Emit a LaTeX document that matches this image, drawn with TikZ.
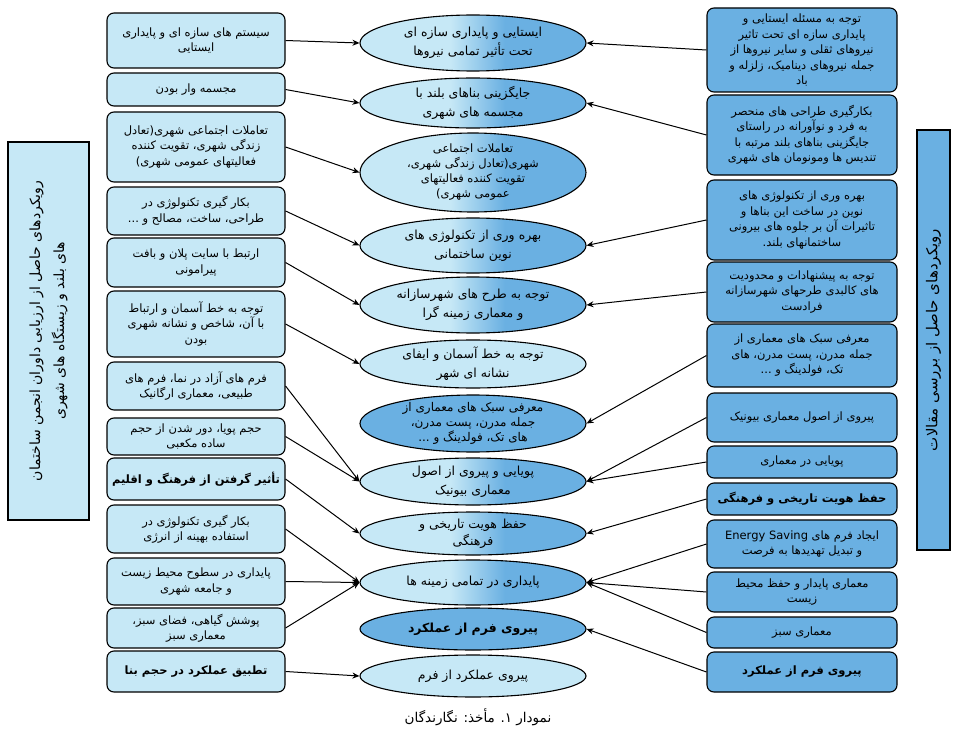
\documentclass[tikz,border=0pt]{standalone}
\usepackage{fontspec}
\usetikzlibrary{shapes.geometric,arrows.meta}
\TeXXeTstate=1
\newfontfamily\farsi[Script=Arabic]{DejaVu Sans}
\newcommand{\rl}[1]{\beginR #1\endR}
\definecolor{boxlight}{RGB}{198,232,246}
\definecolor{boxmid}{RGB}{106,176,226}
\pgfdeclarehorizontalshading{themeshade}{100bp}{color(0bp)=(boxlight); color(45bp)=(boxlight); color(57bp)=(boxmid); color(100bp)=(boxmid)}

\begin{document}
\begin{tikzpicture}[x=1pt,y=-1pt,
  lbox/.style={draw=black, line width=1.1pt, rounded corners=7pt, fill=boxlight, minimum width=178pt, inner sep=2pt, align=center, font=\farsi\fontsize{11.5}{15.5}\selectfont},
  rbox/.style={lbox, fill=boxmid, minimum width=190pt},
  theme/.style={ellipse, draw=black, line width=1.1pt, minimum width=226pt, inner xsep=-30pt, inner ysep=-6pt, align=center, font=\farsi\fontsize{12.5}{19}\selectfont},
  themeg/.style={theme, shading=themeshade},
  themel/.style={theme, fill=boxlight},
  themed/.style={theme, fill=boxmid},
  sidebox/.style={draw=black, line width=1.1pt, rotate=90, align=center, inner sep=2pt},
  conn/.style={line width=1pt, -{Stealth[length=7pt,width=6pt]}}]
\useasboundingbox (0,0) rectangle (958,733);

% side boxes
\node[sidebox, fill=boxlight, minimum width=378pt, minimum height=81pt, font=\farsi\fontsize{14}{24}\selectfont] (sidel) at (48.5,331) {\rl{رویکردهای حاصل از ارزیابی داوران انجمن ساختمان}\\\rl{های بلند و زیستگاه های شهری}};
\node[sidebox, fill=boxmid, minimum width=420pt, minimum height=33pt, font=\farsi\fontsize{15}{17}\selectfont] (sider) at (933.5,340) {\rl{رویکردهای حاصل از بررسی مقالات}};

% left column
\node[lbox, minimum height=55pt] (l1) at (196,40.5) {\rl{سیستم های سازه ای و پایداری}\\\rl{ایستایی}};
\node[lbox, minimum height=33pt] (l2) at (196,89.5) {\rl{مجسمه وار بودن}};
\node[lbox, minimum height=70pt] (l3) at (196,147) {\rl{تعاملات اجتماعی شهری(تعادل}\\\rl{زندگی شهری، تقویت کننده}\\\rl{فعالیتهای عمومی شهری)}};
\node[lbox, minimum height=48pt] (l4) at (196,211) {\rl{بکار گیری تکنولوژی در}\\\rl{طراحی، ساخت، مصالح و ...}};
\node[lbox, minimum height=49pt] (l5) at (196,262.5) {\rl{ارتبط با سایت پلان و بافت}\\\rl{پیرامونی}};
\node[lbox, minimum height=66pt] (l6) at (196,324) {\rl{توجه به خط آسمان و ارتباط}\\\rl{با آن، شاخص و نشانه شهری}\\\rl{بودن}};
\node[lbox, minimum height=48pt] (l7) at (196,386) {\rl{فرم های آزاد در نما، فرم های}\\\rl{طبیعی، معماری ارگانیک}};
\node[lbox, minimum height=37pt] (l8) at (196,436.5) {\rl{حجم پویا، دور شدن از حجم}\\\rl{ساده مکعبی}};
\node[lbox, minimum height=42pt] (l9) at (196,479) {\bfseries\rl{تأثیر گرفتن از فرهنگ و اقلیم}};
\node[lbox, minimum height=48pt] (l10) at (196,529) {\rl{بکار گیری تکنولوژی در}\\\rl{استفاده بهینه از انرژی}};
\node[lbox, minimum height=47pt] (l11) at (196,581.5) {\rl{پایداری در سطوح محیط زیست}\\\rl{و جامعه شهری}};
\node[lbox, minimum height=40pt] (l12) at (196,628) {\rl{پوشش گیاهی، فضای سبز،}\\\rl{معماری سبز}};
\node[lbox, minimum height=41pt] (l13) at (196,671.5) {\bfseries\rl{تطبیق عملکرد در حجم بنا}};

% middle themes
\node[themeg, minimum height=56pt] (e1) at (473,43) {\rl{ایستایی و پایداری سازه ای}\\\rl{تحت تأثیر تمامی نیروها}};
\node[themeg, minimum height=50pt] (e2) at (473,103) {\rl{جایگزینی بناهای بلند با}\\\rl{مجسمه های شهری}};
\node[themeg, minimum height=79pt, font=\farsi\fontsize{11.5}{15}\selectfont] (e3) at (473,172.5) {\rl{تعاملات اجتماعی}\\\rl{شهری(تعادل زندگی شهری،}\\\rl{تقویت کننده فعالیتهای}\\\rl{عمومی شهری)}};
\node[themeg, minimum height=55pt] (e4) at (473,245.5) {\rl{بهره وری از تکنولوژی های}\\\rl{نوین ساختمانی}};
\node[themeg, minimum height=56pt] (e5) at (473,305) {\rl{توجه به طرح های شهرسازانه}\\\rl{و معماری زمینه گرا}};
\node[themel, minimum height=48pt] (e6) at (473,364) {\rl{توجه به خط آسمان و ایفای}\\\rl{نشانه ای شهر}};
\node[themed, minimum height=57pt, font=\farsi\fontsize{12}{15}\selectfont] (e7) at (473,423.5) {\rl{معرفی سبک های معماری از}\\\rl{جمله مدرن، پست مدرن،}\\\rl{های تک، فولدینگ و ...}};
\node[themeg, minimum height=47pt] (e8) at (473,481.5) {\rl{پویایی و پیروی از اصول}\\\rl{معماری بیونیک}};
\node[themeg, minimum height=43pt, font=\farsi\fontsize{12.5}{17}\selectfont] (e9) at (473,533.5) {\rl{حفظ هویت تاریخی و}\\\rl{فرهنگی}};
\node[themeg, minimum height=45pt] (e10) at (473,582.5) {\rl{پایداری در تمامی زمینه ها}};
\node[themed, minimum height=42pt] (e11) at (473,629) {\bfseries\rl{پیروی فرم از عملکرد}};
\node[themel, minimum height=42pt] (e12) at (473,676) {\rl{پیروی عملکرد از فرم}};

% right column
\node[rbox, minimum height=84pt] (r1) at (802,50) {\rl{توجه به مسئله ایستایی و}\\\rl{پایداری سازه ای تحت تاثیر}\\\rl{نیروهای ثقلی و سایر نیروها از}\\\rl{جمله نیروهای دینامیک، زلزله و}\\\rl{باد}};
\node[rbox, minimum height=80pt] (r2) at (802,135) {\rl{بکارگیری طراحی های منحصر}\\\rl{به فرد و نوآورانه در راستای}\\\rl{جایگزینی بناهای بلند مرتبه با}\\\rl{تندیس ها ومونومان های شهری}};
\node[rbox, minimum height=80pt] (r3) at (802,220) {\rl{بهره وری از تکنولوژی های}\\\rl{نوین در ساخت این بناها و}\\\rl{تاثیرات آن بر جلوه های بیرونی}\\\rl{ساختمانهای بلند.}};
\node[rbox, minimum height=60pt] (r4) at (802,292) {\rl{توجه به پیشنهادات و محدودیت}\\\rl{های کالبدی طرحهای شهرسازانه}\\\rl{فرادست}};
\node[rbox, minimum height=63pt] (r5) at (802,355.5) {\rl{معرفی سبک های معماری از}\\\rl{جمله مدرن، پست مدرن، های}\\\rl{تک، فولدینگ و ...}};
\node[rbox, minimum height=49pt] (r6) at (802,417.5) {\rl{پیروی از اصول معماری بیونیک}};
\node[rbox, minimum height=32pt] (r7) at (802,462) {\rl{پویایی در معماری}};
\node[rbox, minimum height=32pt] (r8) at (802,499) {\bfseries\rl{حفظ هویت تاریخی و فرهنگی}};
\node[rbox, minimum height=48pt] (r9) at (802,544) {\rl{ایجاد فرم های \beginL Energy Saving\endL{}}\\\rl{و تبدیل تهدیدها به فرصت}};
\node[rbox, minimum height=40pt] (r10) at (802,592) {\rl{معماری پایدار و حفظ محیط}\\\rl{زیست}};
\node[rbox, minimum height=31pt] (r11) at (802,632.5) {\rl{معماری سبز}};
\node[rbox, minimum height=40pt] (r12) at (802,672) {\bfseries\rl{پیروی فرم از عملکرد}};

\node[font=\farsi\fontsize{13.5}{15}\selectfont] (cap) at (478,717) {\rl{نمودار ۱. مأخذ: نگارندگان}};

% connectors
\foreach \from/\to in {l1/e1, l2/e2, l3/e3, l4/e4, l5/e5, l6/e6, l7/e8, l8/e8, l9/e9, l10/e10, l11/e10, l12/e10, l13/e12}
    \draw [conn] (\from.east) -- (\to.west);
\foreach \from/\to in {r1/e1, r2/e2, r3/e4, r4/e5, r5/e7, r6/e8, r7/e8, r8/e9, r9/e10, r10/e10, r11/e10, r12/e11}
    \draw [conn] (\from.west) -- (\to.east);
\end{tikzpicture}
\end{document}
